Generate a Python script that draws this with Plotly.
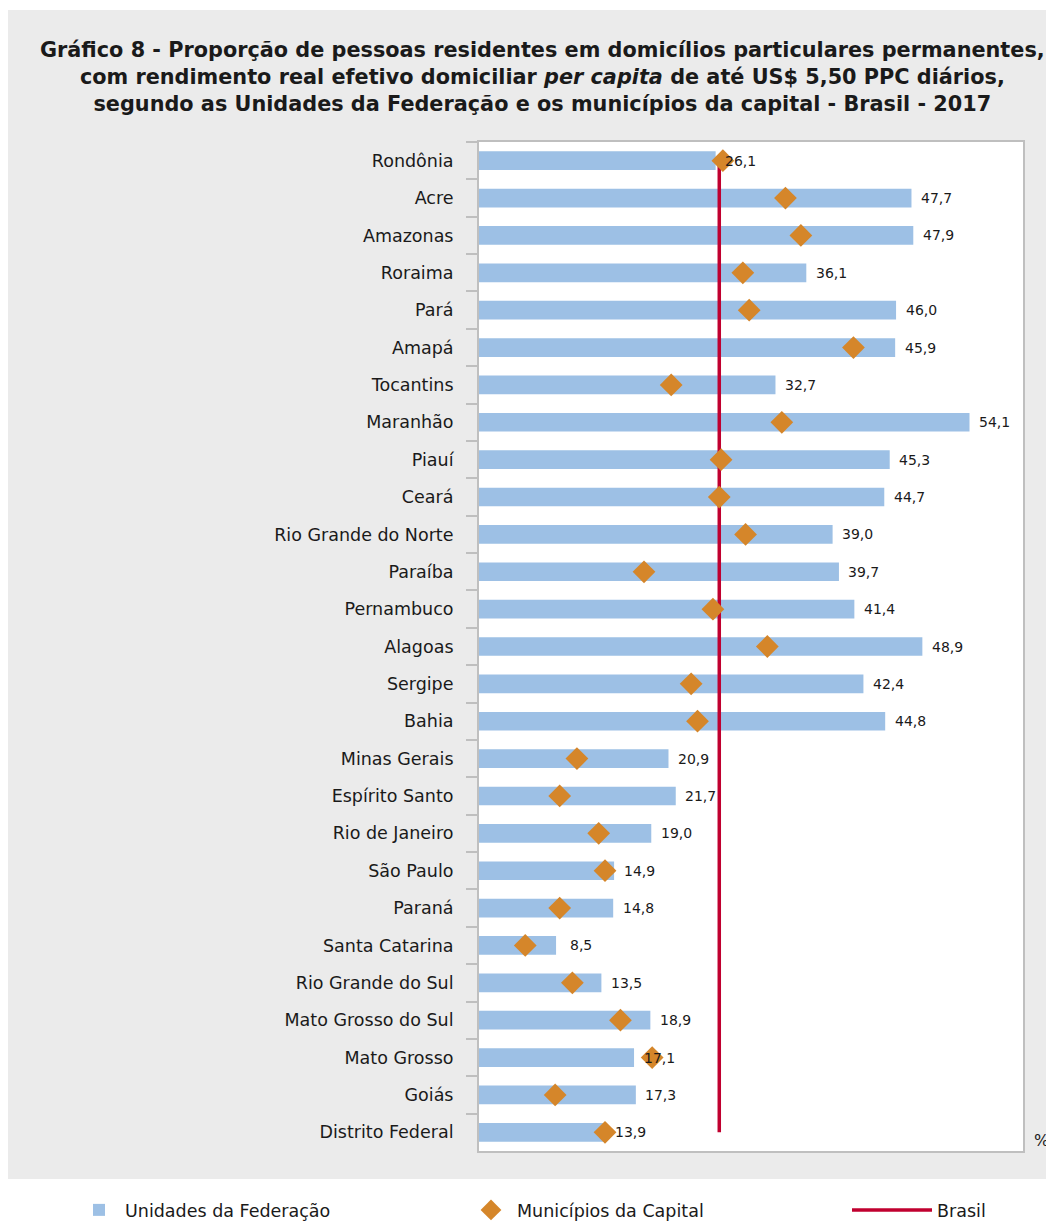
import plotly.graph_objects as go

categories = ["Rondônia", "Acre", "Amazonas", "Roraima", "Pará", "Amapá", "Tocantins",
              "Maranhão", "Piauí", "Ceará", "Rio Grande do Norte", "Paraíba", "Pernambuco",
              "Alagoas", "Sergipe", "Bahia", "Minas Gerais", "Espírito Santo",
              "Rio de Janeiro", "São Paulo", "Paraná", "Santa Catarina",
              "Rio Grande do Sul", "Mato Grosso do Sul", "Mato Grosso", "Goiás",
              "Distrito Federal"]
uf_values = [26.1, 47.7, 47.9, 36.1, 46.0, 45.9, 32.7, 54.1, 45.3, 44.7, 39.0, 39.7, 41.4,
             48.9, 42.4, 44.8, 20.9, 21.7, 19.0, 14.9, 14.8, 8.5, 13.5, 18.9, 17.1, 17.3,
             13.9]
capital_values = [26.9, 33.8, 35.5, 29.1, 29.8, 41.3, 21.2, 33.4, 26.7, 26.5, 29.4, 18.2,
                  25.8, 31.8, 23.4, 24.1, 10.8, 8.9, 13.2, 13.9, 8.9, 5.1, 10.3, 15.6, 19.1,
                  8.4, 13.9]
brasil_value = 26.5

series_names = ["Unidades da Federação", "Municípios da Capital", "Brasil"]
title_text = ("Gráfico 8 - Proporção de pessoas residentes em domicílios particulares permanentes,<br>"
              "com rendimento real efetivo domiciliar <i>per capita</i> de até US$ 5,50 PPC diários,<br>"
              "segundo as Unidades da Federação e os municípios da capital - Brasil - 2017")

OFF = 8  # page body margin
W, H = 1054 - OFF, 1221 - OFF
# plot area in window pixels: x 479..1023, y 142..1151
ML, MT = 479 - OFF, 142 - OFF
MR = W - (1023 - OFF)
MB = H - (1151 - OFF)
PW, PH = W - ML - MR, H - MT - MB

FONT = "DejaVu Sans"
TXT_C = "#1a1a1a"
BAR_C = "#9dc0e5"
DIA_C = "#d5862a"
RED_C = "#c0002f"
GRID_C = "#bfbfbf"
PANEL_C = "#ebebeb"


def px_x(p):
    return (p - OFF - ML) / PW


def px_y(p):
    return (H - MB - (p - OFF)) / PH


def cx(p):
    return (p - OFF) / W


def cy(p):
    return 1 - (p - OFF) / H


fig = go.Figure()
fig.add_trace(go.Bar(
    x=uf_values, y=categories, orientation="h", name=series_names[0],
    marker=dict(color=BAR_C, line=dict(width=0)), width=0.5, legend="legend",
    hoverinfo="x+y"))
fig.add_trace(go.Scatter(
    x=[brasil_value, brasil_value], y=[categories[0], categories[-1]], mode="lines",
    name=series_names[2], line=dict(color=RED_C, width=3.5), legend="legend3"))
fig.add_trace(go.Scatter(
    x=capital_values, y=categories, mode="markers", name=series_names[1],
    marker=dict(symbol="diamond", size=17.5, color=DIA_C, line=dict(width=0)),
    legend="legend2"))

annotations = []
for cat, v in zip(categories, uf_values):
    annotations.append(dict(
        x=v, y=cat, xref="x", yref="y", text=f"{v:.1f}".replace(".", ","),
        showarrow=False, xshift=25, xanchor="center", yanchor="middle",
        font=dict(family=FONT, size=14, color=TXT_C)))
annotations.append(dict(
    x=px_x(1041), y=px_y(1140), xref="paper", yref="paper", text="%",
    showarrow=False, xanchor="center", yanchor="middle",
    font=dict(family=FONT, size=16, color=TXT_C)))
annotations.append(dict(
    x=px_x(542), y=px_y(77), xref="paper", yref="paper", text=title_text,
    showarrow=False, xanchor="center", yanchor="middle", align="center",
    font=dict(family=FONT, size=20.8, color=TXT_C, weight="bold")))

# white strips outside the grey panel (top and bottom)
shapes = [
    dict(type="rect", xref="paper", yref="paper", layer="below",
         x0=px_x(0), x1=px_x(1070), y0=px_y(1240), y1=px_y(1179),
         fillcolor="white", line=dict(width=0)),
    dict(type="rect", xref="paper", yref="paper", layer="below",
         x0=px_x(0), x1=px_x(1070), y0=px_y(10), y1=px_y(-5),
         fillcolor="white", line=dict(width=0)),
]

leg_common = dict(orientation="h", yref="container", y=cy(1210), yanchor="middle",
                  xref="container", xanchor="left",
                  font=dict(family=FONT, size=17.5, color=TXT_C),
                  bgcolor="rgba(0,0,0,0)")

fig.update_layout(
    width=W, height=H,
    margin=dict(l=ML, r=MR, t=MT, b=MB, pad=0, autoexpand=False),
    paper_bgcolor=PANEL_C, plot_bgcolor="white",
    font=dict(family=FONT, size=17, color=TXT_C),
    showlegend=True,
    legend=dict(x=cx(73), itemwidth=42, **leg_common),
    legend2=dict(x=cx(465), itemwidth=42, **leg_common),
    legend3=dict(x=cx(847), itemwidth=80, **leg_common),
    annotations=annotations, shapes=shapes,
)
fig.update_xaxes(range=[0, 60], showticklabels=False, ticks="", showgrid=False,
                 zeroline=False, showline=True, linecolor=GRID_C, linewidth=2,
                 mirror=True)
fig.update_yaxes(range=[len(categories) - 0.5, -0.5], type="category",
                 tickson="boundaries", ticks="outside", ticklen=11, tickcolor=GRID_C,
                 tickwidth=1.5, showgrid=False, showline=True, linecolor=GRID_C,
                 linewidth=2, mirror=True, ticklabelstandoff=20,
                 tickfont=dict(family=FONT, size=17.5, color=TXT_C))

fig.write_html("out.html")
